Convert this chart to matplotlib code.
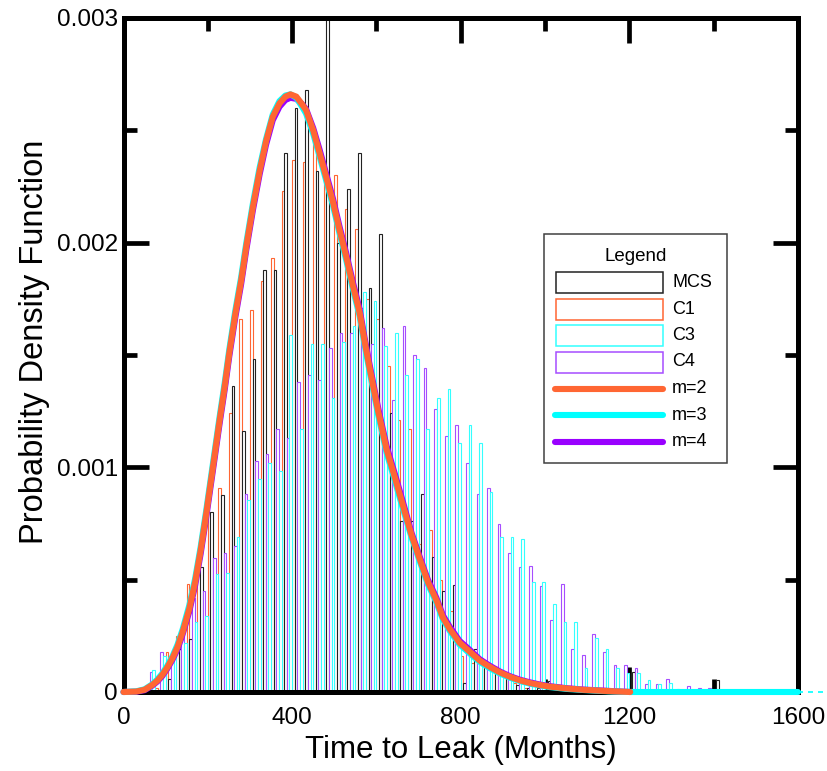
import numpy as np
import matplotlib
matplotlib.use('Agg')
import matplotlib.pyplot as plt
from matplotlib.patches import Rectangle
from matplotlib.lines import Line2D

plt.rcParams['font.family'] = ['Liberation Sans', 'DejaVu Sans']

# histogram bins: 25 months wide, 64 bins from 0 to 1600
bin_width = 25
bin_start = np.arange(0, 1600, bin_width)

# bar heights in units of 1e-3
mcs_e3 = [0, 0, 0, 0.01, 0.06, 0.19, 0.234, 0.555, 0.80, 0.877,
          1.36, 1.16, 1.48, 1.88, 1.88, 2.40, 2.60, 2.68, 2.32, 3.10,
          2.00, 2.24, 2.40, 1.80, 2.04, 1.24, 0.76, 0.76, 0.88, 0.60,
          0.45, 0.476, 0.04, 0.19, 0.11, 0.11, 0.083, 0.03, 0.016, 0.02,
          0.05, 0.01, 0, 0, 0, 0, 0, 0, 0.09, 0,
          0, 0, 0, 0, 0, 0, 0.053, 0, 0, 0,
          0, 0, 0, 0]
c1_e3 = [0, 0, 0, 0.02, 0.18, 0.25, 0.48, 0.55, 0.80, 0.909,
         1.24, 1.66, 1.70, 1.83, 1.93, 2.23, 2.37, 2.36, 2.50, 2.35,
         2.30, 2.15, 2.06, 1.75, 1.66, 1.45, 1.21, 1.17, 0.66, 0.72,
         0.50, 0.36, 0.16, 0.13, 0.12, 0.10, 0.07, 0.04, 0.02, 0.01,
         0.01, 0, 0, 0, 0, 0, 0, 0, 0, 0,
         0, 0, 0, 0, 0, 0, 0, 0, 0, 0,
         0, 0, 0, 0]
c3_e3 = [0, 0, 0.098, 0.16, 0.20, 0.22, 0.31, 0.34, 0.525, 0.53,
         0.69, 0.855, 0.95, 1.02, 0.985, 1.59, 1.17, 1.55, 1.55, 1.31,
         1.56, 1.63, 1.78, 1.74, 1.54, 1.60, 1.41, 1.48, 1.17, 1.31,
         1.35, 1.11, 1.19, 1.11, 0.89, 0.69, 0.69, 0.68, 0.49, 0.49,
         0.39, 0.31, 0.31, 0.105, 0.24, 0.19, 0.105, 0.083, 0.083, 0.053,
         0.036, 0.04, 0.01, 0, 0, 0, 0, 0, 0, 0,
         0, 0, 0, 0]
c4_e3 = [0, 0, 0.09, 0.18, 0.17, 0.25, 0.42, 0.45, 0.595, 0.62,
         0.65, 0.88, 1.03, 1.06, 1.17, 1.13, 1.38, 1.41, 1.39, 1.53,
         1.60, 1.60, 1.71, 1.55, 1.62, 1.30, 1.63, 1.50, 1.44, 1.26,
         1.14, 1.19, 1.02, 0.88, 0.91, 0.75, 0.62, 0.555, 0.56, 0.47,
         0.32, 0.48, 0.19, 0.165, 0.26, 0.18, 0.12, 0.12, 0.105, 0.036,
         0.036, 0.058, 0.012, 0.027, 0.02, 0.02, 0.01, 0, 0, 0,
         0, 0, 0, 0]

# fitted pdf curves (months, 1e-3)
curve_x = [0, 30, 50, 68, 80, 92, 104, 116, 128, 140,
           156, 170, 183, 196, 212, 228, 240, 251, 265, 279,
           291, 307, 323, 338, 354, 370, 384, 396, 410, 422,
           433, 450, 465, 481, 497, 512, 528, 544, 560, 572,
           584, 604, 624, 643, 663, 683, 703, 722, 742, 758,
           774, 797, 821, 845, 868, 892, 916, 940, 964, 988,
           1011, 1050, 1090, 1150, 1202]
m2_e3 = [0, 0.002, 0.01, 0.031, 0.05, 0.076, 0.11, 0.15, 0.20, 0.265,
         0.37, 0.49, 0.63, 0.79, 1.00, 1.21, 1.36, 1.51, 1.68, 1.83,
         1.98, 2.16, 2.32, 2.45, 2.56, 2.62, 2.65, 2.66, 2.65, 2.62,
         2.59, 2.50, 2.40, 2.29, 2.18, 2.06, 1.94, 1.81, 1.69, 1.56,
         1.44, 1.25, 1.08, 0.96, 0.83, 0.70, 0.59, 0.49, 0.41, 0.33,
         0.28, 0.22, 0.18, 0.14, 0.113, 0.088, 0.068, 0.052, 0.04, 0.031,
         0.024, 0.016, 0.01, 0.004, 0.0]
m3_e3 = [0, 0.003, 0.012, 0.034, 0.055, 0.082, 0.117, 0.158, 0.21, 0.277,
         0.385, 0.505, 0.645, 0.805, 1.015, 1.225, 1.375, 1.525, 1.695, 1.845,
         1.995, 2.175, 2.335, 2.46, 2.57, 2.63, 2.655, 2.66, 2.645, 2.61,
         2.575, 2.485, 2.385, 2.275, 2.165, 2.045, 1.925, 1.795, 1.675, 1.545,
         1.425, 1.235, 1.065, 0.945, 0.815, 0.69, 0.58, 0.48, 0.40, 0.322,
         0.272, 0.212, 0.172, 0.134, 0.107, 0.083, 0.064, 0.049, 0.037, 0.029,
         0.022, 0.014, 0.009, 0.003, 0.0]
m3_tail_x = [1400, 1600]
m3_tail_e3 = [0.0, 0.0]
m4_e3 = [0, 0.001, 0.008, 0.028, 0.046, 0.071, 0.104, 0.143, 0.19, 0.255,
         0.358, 0.475, 0.615, 0.775, 0.985, 1.195, 1.345, 1.495, 1.665, 1.815,
         1.965, 2.145, 2.305, 2.435, 2.545, 2.605, 2.635, 2.645, 2.64, 2.62,
         2.595, 2.51, 2.415, 2.305, 2.195, 2.075, 1.955, 1.825, 1.705, 1.575,
         1.455, 1.265, 1.095, 0.975, 0.845, 0.71, 0.60, 0.50, 0.42, 0.34,
         0.29, 0.228, 0.188, 0.146, 0.118, 0.092, 0.071, 0.055, 0.043, 0.033,
         0.026, 0.017, 0.011, 0.005, 0.0]

series_names = ['MCS', 'C1', 'C3', 'C4']
curve_names = ['m=2', 'm=3', 'm=4']

FIG_W, FIG_H = 827, 771
orange = '#FF6633'
cyan = '#00FFFF'
purple = '#9900FF'
bar_edges = {'MCS': '#222222', 'C1': '#FF6633', 'C3': '#33FFFF', 'C4': '#A64DFF'}


def fx(px):
    return px / FIG_W


def fy(py):
    return 1 - py / FIG_H


fig = plt.figure(figsize=(FIG_W / 100, FIG_H / 100), dpi=100)
ax = fig.add_axes([fx(123.5), fy(692), fx(798) - fx(123.5), fy(18) - fy(692)])

sub_w = bin_width / 4
centers = bin_start + bin_width / 2
# bar order inside each bin, left to right: C1, MCS, C4, C3
bar_sets = [(c1_e3, 'C1', -1.5), (mcs_e3, 'MCS', -0.5), (c4_e3, 'C4', 0.5), (c3_e3, 'C3', 1.5)]
for vals, name, off in bar_sets:
    ax.bar(centers + off * sub_w, np.array(vals) * 1e-3, width=sub_w,
           facecolor='white', edgecolor=bar_edges[name], linewidth=0.8, zorder=2)

lw_curve = 4.4
cx = np.array(curve_x)
ax.plot(cx, np.array(m4_e3) * 1e-3, color=purple, lw=lw_curve,
        solid_capstyle='round', solid_joinstyle='round', zorder=4, clip_on=False)
ax.plot(np.concatenate([cx, m3_tail_x]), np.concatenate([m3_e3, m3_tail_e3]) * 1e-3,
        color=cyan, lw=lw_curve, solid_capstyle='round', solid_joinstyle='round',
        zorder=4.1, clip_on=False)
ax.plot(cx, np.array(m2_e3) * 1e-3, color=orange, lw=lw_curve,
        solid_capstyle='round', solid_joinstyle='round', zorder=4.2, clip_on=False)
# dashed tail of the m=3 curve running past the frame
ax.plot([1600, 1690], [0, 0], color=cyan, lw=1.2, ls=(0, (3, 3)), clip_on=False, zorder=4)

ax.set_xlim(0, 1600)
ax.set_ylim(0, 0.003)
ax.set_xticks([0, 400, 800, 1200, 1600])
ax.set_xticks([200, 600, 1000, 1400], minor=True)
ax.set_yticks([0, 0.001, 0.002, 0.003])
ax.set_yticklabels(['0', '0.001', '0.002', '0.003'])
ax.set_yticks([0.0005, 0.0015, 0.0025], minor=True)
ax.tick_params(which='both', direction='in', top=True, right=True, width=3.4,
               labelsize=17.5, colors='black')
ax.tick_params(which='major', length=18)
ax.tick_params(which='minor', length=9.5)
ax.tick_params(axis='x', pad=11)
ax.tick_params(axis='y', pad=4)
for sp in ax.spines.values():
    sp.set_linewidth(3.6)
    sp.set_zorder(3)

ax.set_xlabel('Time to Leak (Months)', fontsize=22.5)
ax.set_ylabel('Probability Density Function', fontsize=23.5)
ax.xaxis.label.set_va('center')
ax.yaxis.label.set_va('center')
ax.xaxis.set_label_coords(0.5, (692 - 750) / 674)
ax.yaxis.set_label_coords((35 - 123.5) / 674.5, (692 - 341.5) / 674)

# legend box drawn by hand in figure pixels
box = Rectangle((fx(544.3), fy(463.3)), fx(726.7) - fx(544.3), fy(234.3) - fy(463.3),
                transform=fig.transFigure, facecolor='white', edgecolor='#404040',
                linewidth=1.1, zorder=10)
fig.add_artist(box)
fig.text(fx(635.7), fy(256.5), 'Legend', ha='center', va='center', fontsize=13.5, zorder=11)
rows_py = [282.7, 309.0, 335.7, 362.0, 388.7, 415.3, 442.0]
for name, py in zip(series_names, rows_py[:4]):
    fig.add_artist(Rectangle((fx(555.7), fy(py + 10.5)), fx(662.7) - fx(555.7), 21 / FIG_H,
                             transform=fig.transFigure, facecolor='white',
                             edgecolor=bar_edges[name], linewidth=1.1, zorder=11))
    fig.text(fx(672), fy(py), name, ha='left', va='center', fontsize=13, zorder=11)
for name, col, py in zip(curve_names, [orange, cyan, purple], rows_py[4:]):
    fig.add_artist(Line2D([fx(555), fx(663)], [fy(py), fy(py)], transform=fig.transFigure,
                          color=col, lw=lw_curve, solid_capstyle='round', zorder=11))
    fig.text(fx(672), fy(py), name, ha='left', va='center', fontsize=13, zorder=11)

fig.savefig('out.png', dpi=100)
